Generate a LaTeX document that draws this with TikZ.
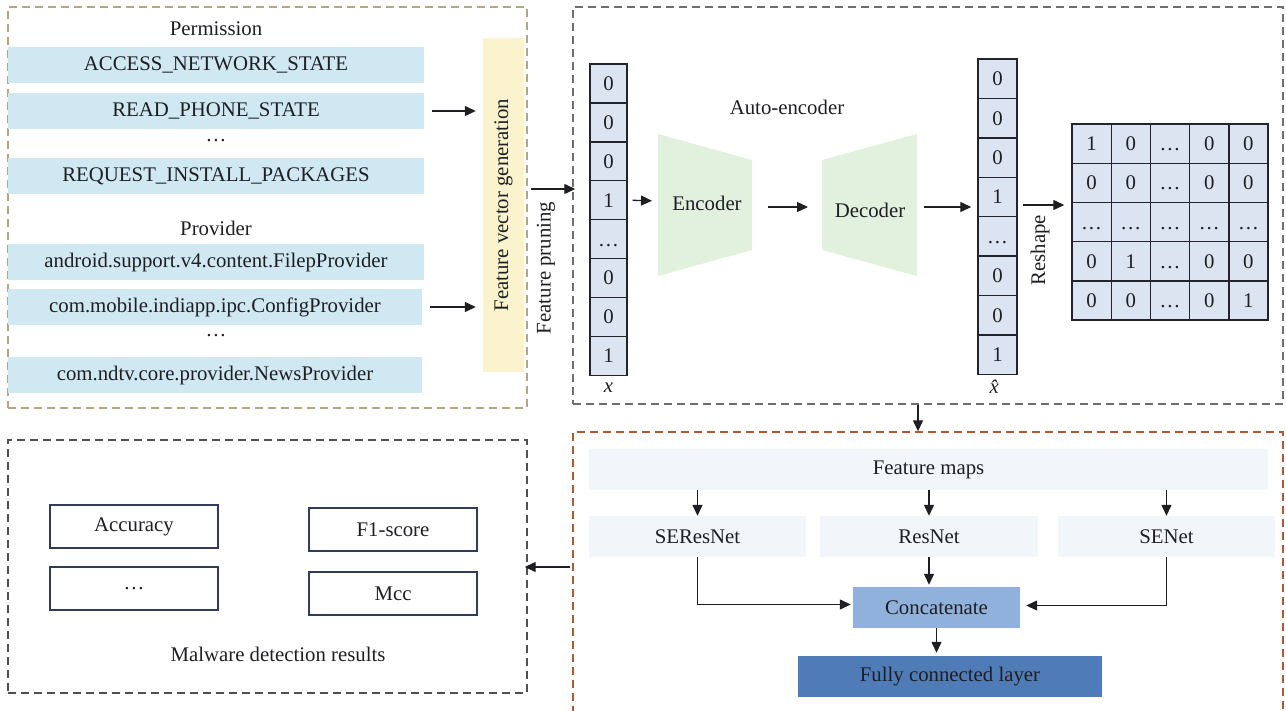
\documentclass[tikz,border=0pt]{standalone}
\usepackage{fontspec}
\setmainfont{Liberation Serif}
\usetikzlibrary{arrows.meta,calc}
\definecolor{barblue}{RGB}{207,232,242}
\definecolor{fvgyellow}{RGB}{250,243,205}
\definecolor{aegreen}{RGB}{226,240,222}
\definecolor{cellfill}{RGB}{220,228,241}
\definecolor{celledge}{RGB}{35,35,45}
\definecolor{tanline}{RGB}{178,168,128}
\definecolor{grayline}{RGB}{110,110,110}
\definecolor{brownline}{RGB}{172,92,52}
\definecolor{darkline}{RGB}{80,80,80}
\definecolor{paleblue}{RGB}{242,246,250}
\definecolor{concatblue}{RGB}{143,177,220}
\definecolor{fcblue}{RGB}{79,124,182}
\definecolor{metricedge}{RGB}{50,60,90}
\definecolor{txt}{RGB}{30,30,35}
\begin{document}
\begin{tikzpicture}[x=1pt,y=-1pt,
  font=\fontsize{20.8}{25}\selectfont, text=txt,
  arr/.style={draw=txt,line width=1.3pt,-{Triangle[length=11pt,width=10pt]}},
  dbox/.style={draw=#1,line width=1.4pt,dash pattern=on 8pt off 5pt,inner sep=0pt},
  bar/.style={fill=barblue,inner sep=0pt,minimum height=36pt},
  cell/.style={draw=celledge,fill=cellfill,line width=1.4pt,inner sep=0pt,text height=14pt,text depth=0pt},
  pale/.style={fill=paleblue,inner sep=0pt,minimum height=41pt},
  metric/.style={draw=metricedge,line width=1.3pt,inner sep=0pt,minimum width=168pt,minimum height=43pt},
  lbl/.style={inner sep=1pt}]
\useasboundingbox (0,0) rectangle (1286,710);
% boxes
\node[dbox=tanline,minimum width=519pt,minimum height=401pt] (b1) at (267.5,207.5) {};
\node[dbox=grayline,minimum width=710pt,minimum height=397pt] (b2) at (928,205.5) {};
\node[dbox=brownline,minimum width=710pt,minimum height=282pt] (b3) at (928,573) {};
\node[dbox=darkline,minimum width=519pt,minimum height=253pt] (b4) at (267.5,566.5) {};
% permission / provider
\node[lbl] (perm) at (216,29) {Permission};
\node[bar,minimum width=416pt] (p1) at (216,65) {ACCESS\_NETWORK\_STATE};
\node[bar,minimum width=416pt] (p2) at (216,111) {READ\_PHONE\_STATE};
\node[lbl] (pd) at (216,141) {…};
\node[bar,minimum width=416pt] (p3) at (216,176) {REQUEST\_INSTALL\_PACKAGES};
\node[lbl] (prov) at (216,228) {Provider};
\node[bar,minimum width=416pt] (q1) at (216,262) {android.support.v4.content.FilepProvider};
\node[bar,minimum width=414pt] (q2) at (215,307) {com.mobile.indiapp.ipc.ConfigProvider};
\node[lbl] (qd) at (216,336) {…};
\node[bar,minimum width=414pt] (q3) at (215,375) {com.ndtv.core.provider.NewsProvider};
\node[fill=fvgyellow,inner sep=0pt,minimum width=41pt,minimum height=334pt] (fvg) at (503.5,205) {};
\node[rotate=90,lbl] (fvgt) at (503.5,205) {Feature vector generation};
\draw[arr,shorten <=8pt,shorten >=7pt] (p2.east) -- (fvg.west |- p2.east);
\draw[arr,shorten <=8pt,shorten >=7pt] (q2.east) -- (fvg.west |- q2.east);
% feature pruning
\coordinate (fpy) at (0,189);
\draw[arr,shorten <=3pt,shorten >=-3pt] (b1.east |- fpy) -- (b2.west |- fpy);
\node[rotate=90,lbl] (fpt) at (546,268) {Feature pruning};
% x vector
\foreach \v [count=\i] in {0,0,0,1,…,0,0,1}
  \node[cell,minimum width=37pt,minimum height=38.9pt] (xv\i) at (608.5,{64+(\i-0.5)*38.9}) {\v};
\node[lbl] (xl) at (608.5,388) {\textit{x}};
% encoder / decoder
\fill[aegreen] (658,134) -- (752,160) -- (752,250) -- (658,276) -- cycle;
\fill[aegreen] (822,160) -- (917,134) -- (917,276) -- (822,250) -- cycle;
\node[lbl] (enc) at (707,203) {Encoder};
\node[lbl] (dec) at (870,210) {Decoder};
\node[lbl] (ae) at (787,107) {Auto-encoder};
\coordinate (encL) at (658,201);
\coordinate (encR) at (752,207);
\coordinate (decL) at (822,207);
\coordinate (decR) at (917,207);
\draw[arr,shorten <=5pt,shorten >=6pt] (xv4.east) -- (encL);
\draw[arr,shorten <=16pt,shorten >=14pt] (encR) -- (decL);
% x hat vector
\foreach \v [count=\i] in {0,0,0,1,…,0,0,1}
  \node[cell,minimum width=39pt,minimum height=39.4pt] (xh\i) at (997.5,{59+(\i-0.5)*39.4}) {\v};
\node[lbl] (xhl) at (998,387) {\textit{\^{x}}};
\draw[arr,shorten <=7pt,shorten >=6pt] (decR) -- (xh4.west |- decR);
% reshape and matrix
\node[rotate=90,lbl] (rs) at (1040,250) {Reshape};
\foreach \row [count=\r] in {{1,0,…,0,0},{0,0,…,0,0},{…,…,…,…,…},{0,1,…,0,0},{0,0,…,0,1}}
  \foreach \v [count=\c] in \row
    \node[cell,minimum width=39.2pt,minimum height=39.2pt] (m\r\c) at ({1072+(\c-0.5)*39.2},{124+(\r-0.5)*39.2}) {\v};
\coordinate (rsy) at (0,205);
\draw[arr,shorten <=5pt,shorten >=7pt] (xh4.east |- rsy) -- (m11.west |- rsy);
% box2 -> box3
\coordinate (ax) at (918,0);
\draw[arr] (b2.south -| ax) -- (b3.north -| ax);
% feature maps
\node[pale,minimum width=679pt] (fm) at (928.5,469.5) {Feature maps};
\node[pale,minimum width=217pt] (ser) at (697.5,536.5) {SEResNet};
\node[pale,minimum width=218pt] (rn) at (929,536.5) {ResNet};
\node[pale,minimum width=217pt] (sen) at (1166.5,536.5) {SENet};
\node[fill=concatblue,inner sep=0pt,minimum width=167pt,minimum height=41pt] (cc) at (936.5,607.5) {Concatenate};
\node[fill=fcblue,inner sep=0pt,minimum width=304pt,minimum height=41pt] (fc) at (950,676.5) {Fully connected layer};
\draw[arr] (fm.south -| ser.north) -- (ser.north);
\draw[arr] (fm.south -| rn.north) -- (rn.north);
\draw[arr] (fm.south -| sen.north) -- (sen.north);
\draw[arr,shorten >=2pt] (rn.south) -- (rn.south |- cc.north);
\draw[arr,shorten >=2pt] (ser.south) |- ($(cc.west)+(0,-3)$);
\draw[arr,shorten >=6pt] (sen.south) |- ($(cc.east)+(0,-2)$);
\draw[arr,shorten >=3pt] (cc.south) -- (cc.south |- fc.north);
% box3 -> box4
\coordinate (ry) at (0,567);
\draw[arr,shorten <=2pt,shorten >=-3pt] (b3.west |- ry) -- (b4.east |- ry);
% metrics
\node[metric] (acc) at (134,526.5) {Accuracy};
\node[metric] (f1) at (393,529.5) {F1-score};
\node[metric] (md) at (134,588.5) {…};
\node[metric] (mcc) at (393,593.5) {Mcc};
\node[lbl] (mdr) at (278,654) {Malware detection results};
\end{tikzpicture}
\end{document}
